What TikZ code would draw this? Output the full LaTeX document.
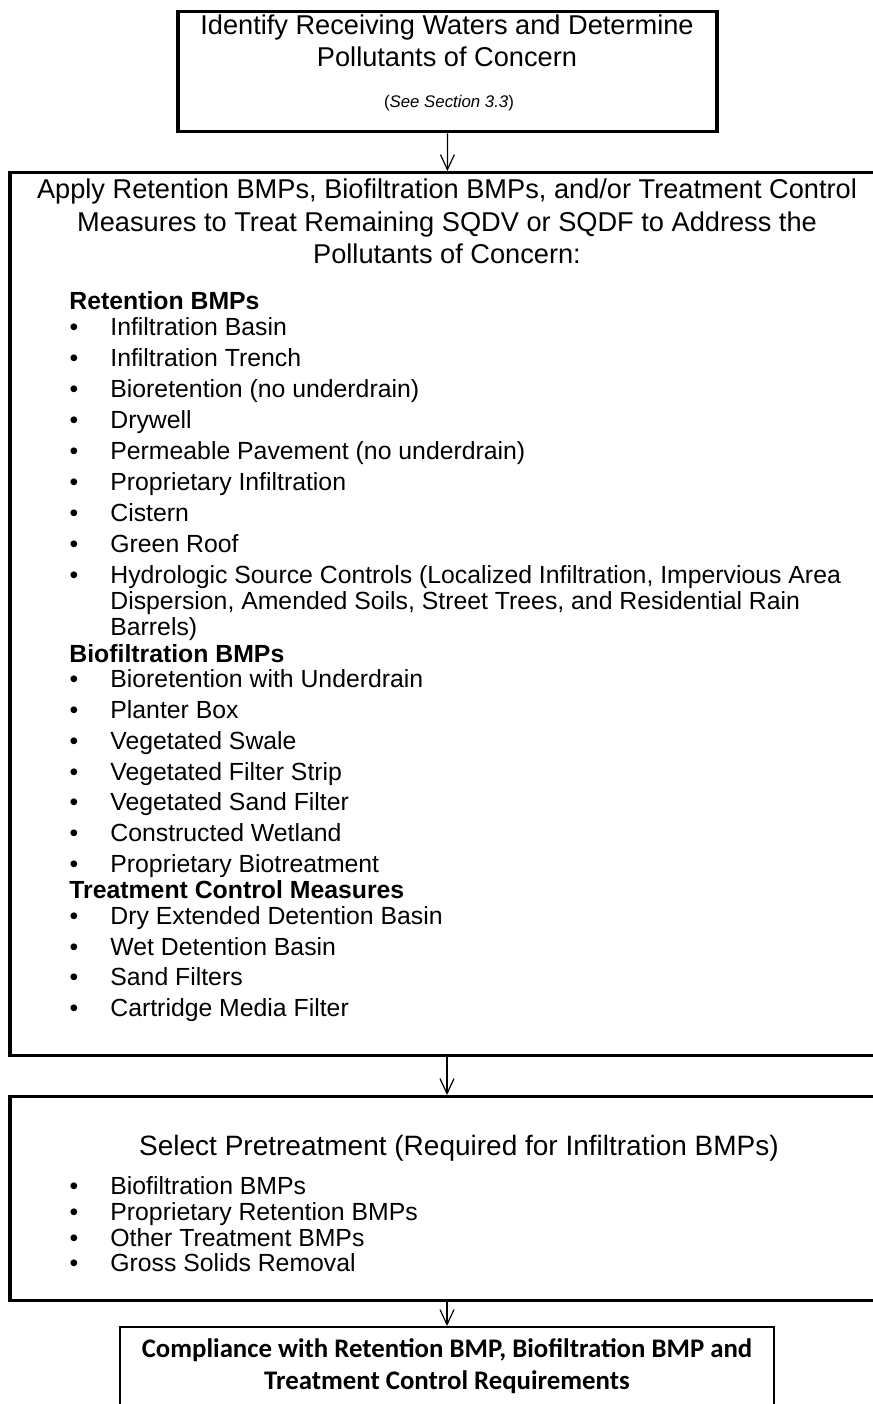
\documentclass[tikz,border=0pt]{standalone}
\usepackage{fontspec}
\setmainfont{Liberation Sans}
\newfontfamily\calibri{Carlito}
\usetikzlibrary{arrows.meta}
\tikzset{
    box/.style={draw,line width=1.7pt,inner sep=0pt},
    thinbox/.style={draw,line width=1pt,inner sep=0pt},
    edge/.style={-{Straight Barb[length=7.5pt,width=7pt]},line width=0.6pt},
    txt/.style={anchor=base,inner sep=0pt,font=\fontsize{13.6}{16}\selectfont},
    item/.style={anchor=base west,inner sep=0pt,font=\fontsize{12.4}{15}\selectfont},
    head/.style={anchor=base west,inner sep=0pt,font=\fontsize{12.4}{15}\selectfont\bfseries},
    dot/.style={anchor=base,inner sep=0pt,font=\fontsize{12.4}{15}\selectfont},
    comptxt/.style={anchor=base,inner sep=0pt,font=\fontsize{13.4}{16}\calibri\bfseries}
    }

\begin{document}
\begin{tikzpicture}[x=0.5pt,y=-0.5pt]
        \useasboundingbox (0,0) rectangle (873,1404);

        % boxes
        \node[box, minimum width=269.5pt, minimum height=60pt, anchor=north] (ident) at (447.5,10) {};
        \node[box, minimum width=437pt, minimum height=441.5pt, anchor=north] (apply) at (447,171) {};
        \node[box, minimum width=437pt, minimum height=102pt, anchor=north] (pretreat) at (447,1095) {};
        \node[thinbox, minimum width=327pt, minimum height=60pt, anchor=north] (comply) at (447,1326) {};

        % top box text
        \node[txt] (ident1) at (447,34) {Identify Receiving Waters and Determine};
        \node[txt] (ident2) at (447,66) {Pollutants of Concern};
        \node[txt, font=\fontsize{8.4}{10}\selectfont] (ident3) at (449,107) {(\textit{See Section 3.3})};

        % apply box text
        \node[txt] (apply1) at (447,198) {Apply Retention BMPs, Biofiltration BMPs, and/or Treatment Control};
        \node[txt] (apply2) at (447,231) {Measures to Treat Remaining SQDV or SQDF to Address the};
        \node[txt] (apply3) at (447,263) {Pollutants of Concern:};

        \node[head] (rethead) at (69,309) {Retention BMPs};
        \foreach \y/\t [count=\i] in {335/Infiltration Basin, 366/Infiltration Trench,
            397/Bioretention (no underdrain), 428/Drywell, 459/Permeable Pavement (no underdrain),
            490/Proprietary Infiltration, 521/Cistern, 552/Green Roof,
            583/{Hydrologic Source Controls (Localized Infiltration, Impervious Area}}
            {
            \node[dot] (retdot\i) at (74,\y) {•};
            \node[item] (retitem\i) at (110,\y) {\t};
            }
        \node[item] (retwrap1) at (110,609) {Dispersion, Amended Soils, Street Trees, and Residential Rain};
        \node[item] (retwrap2) at (110,635) {Barrels)};

        \node[head] (biohead) at (69,662) {Biofiltration BMPs};
        \foreach \y/\t [count=\i] in {687/Bioretention with Underdrain, 718/Planter Box,
            749/Vegetated Swale, 780/Vegetated Filter Strip, 810/Vegetated Sand Filter,
            841/Constructed Wetland, 872/Proprietary Biotreatment}
            {
            \node[dot] (biodot\i) at (74,\y) {•};
            \node[item] (bioitem\i) at (110,\y) {\t};
            }

        \node[head] (tcmhead) at (69,898) {Treatment Control Measures};
        \foreach \y/\t [count=\i] in {924/Dry Extended Detention Basin, 955/Wet Detention Basin,
            985/Sand Filters, 1016/Cartridge Media Filter}
            {
            \node[dot] (tcmdot\i) at (74,\y) {•};
            \node[item] (tcmitem\i) at (110,\y) {\t};
            }

        % pretreatment box text
        \node[txt, font=\fontsize{14}{16}\selectfont] (pre1) at (459,1155) {Select Pretreatment (Required for Infiltration BMPs)};
        \foreach \y/\t [count=\i] in {1194/Biofiltration BMPs, 1220/Proprietary Retention BMPs,
            1246/Other Treatment BMPs, 1271/Gross Solids Removal}
            {
            \node[dot] (predot\i) at (74,\y) {•};
            \node[item] (preitem\i) at (110,\y) {\t};
            }

        % compliance box text
        \node[comptxt] (comp1) at (447,1357) {Compliance with Retention BMP, Biofiltration BMP and};
        \node[comptxt] (comp2) at (447,1389) {Treatment Control Requirements};

        % arrows
        \draw[edge] (ident) -- (apply);
        \draw[edge] (apply) -- (pretreat);
        \draw[edge] (pretreat) -- (comply);
    \end{tikzpicture}
\end{document}
